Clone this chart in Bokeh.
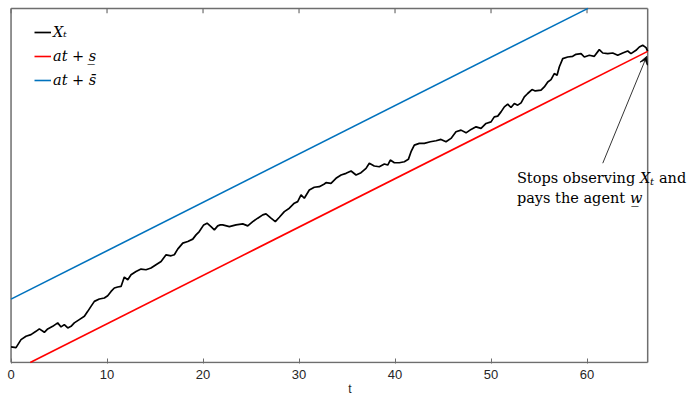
from bokeh.plotting import figure
from bokeh.models import Range1d, FixedTicker, Legend, LegendItem, Label, Arrow, VeeHead
from bokeh.embed import file_html
from bokeh.resources import INLINE

# ---- data ----
t = [0.00, 0.52, 1.04, 1.56, 2.08, 2.60, 2.95, 3.47, 3.82, 4.34, 4.86, 5.21, 5.55, 5.91, 6.25, 6.59, 7.11, 7.64, 7.99, 8.33,
     8.68, 9.20, 9.72, 10.07, 10.42, 10.76,
     11.11, 11.46, 11.80, 12.16, 12.50, 13.02, 13.54, 14.06, 14.58, 15.10, 15.63, 16.15, 16.67, 17.01, 17.36, 17.89, 18.41,
     18.93, 19.27, 19.61, 20.07, 20.42, 20.83, 21.18, 21.53, 21.80,
     22.05, 22.74, 23.44, 24.14, 24.66, 25.18, 25.70, 26.22, 26.56, 27.08, 27.53, 27.95, 28.47, 28.99, 29.51, 29.86, 30.21,
     30.55, 31.07, 31.59, 32.11, 32.64,
     32.81, 33.33, 33.85, 34.38, 34.90, 35.42, 35.94, 36.46, 36.98, 37.32, 37.84, 38.36, 38.89, 39.24, 39.51, 39.93, 40.45,
     40.97, 41.39, 41.67, 42.01, 42.53, 43.05, 43.68,
     44.27, 44.79, 45.31, 45.83, 46.35, 46.88, 47.40, 47.92, 48.44, 48.96, 49.48, 50.00, 50.34, 50.70, 51.04, 51.39, 51.74,
     52.08, 52.43, 52.78, 53.13, 53.47, 53.82, 54.27, 54.61,
     55.21, 55.55, 55.91, 56.25, 56.59, 56.88, 57.11, 57.47, 57.99, 58.51, 58.85, 59.38, 59.72, 60.24, 60.76, 61.28, 61.64,
     62.16, 62.68, 63.20, 63.72, 64.24, 64.58, 65.10, 65.45, 65.80, 66.15, 66.32]
X = [3.24, 3.09, 4.74, 5.42, 5.77, 6.45, 6.95, 6.25, 6.95, 7.48, 8.19, 7.36, 7.84, 7.15, 7.48, 8.19, 8.87, 9.55, 10.58, 11.61,
     12.64, 13.13, 13.34, 13.81, 14.70, 15.40,
     15.61, 15.73, 17.67, 17.11, 18.14, 18.82, 19.32, 19.18, 19.53, 20.21, 20.89, 22.27, 22.06, 22.27, 23.44, 24.68, 25.01,
     25.51, 26.39, 27.07, 28.45, 28.80, 28.10, 27.42, 28.25, 28.45,
     28.45, 28.10, 28.45, 28.66, 28.25, 29.13, 29.84, 30.52, 30.72, 29.84, 29.13, 30.04, 31.20, 31.90, 32.93, 33.26, 34.64,
     33.96, 35.67, 36.23, 36.35, 36.91,
     37.18, 37.05, 38.08, 38.76, 39.11, 39.59, 38.76, 39.24, 40.14, 41.18, 40.62, 40.47, 41.03, 40.82, 41.86, 41.30, 41.30,
     41.51, 42.00, 43.57, 44.95, 45.30, 45.30, 45.63,
     45.84, 46.12, 45.63, 46.33, 47.69, 48.04, 47.48, 48.19, 48.72, 48.39, 49.42, 49.75, 50.78, 50.93, 51.81, 52.85, 53.40,
     52.72, 53.55, 53.20, 53.67, 54.91, 55.61, 56.43, 56.14,
     56.29, 56.97, 58.00, 58.49, 59.73, 59.38, 61.09, 62.82, 63.15, 63.30, 63.71, 63.86, 63.15, 63.51, 63.30, 64.68, 63.98,
     63.86, 63.98, 63.51, 63.98, 64.39, 63.86, 64.54, 65.22, 65.57, 65.09, 64.32]

a = 1.0          # drift
s_low = -2.0     # lower intercept (underline s)
s_high = 13.1    # upper intercept (overline s)
t_end = 66.32
y_min, y_max = 0.0, 73.2
x_ticks = [0, 10, 20, 30, 40, 50, 60]

# straight lines, limited to the axes box
t_red = [(y_min - s_low) / a, t_end]
red_y = [a * v + s_low for v in t_red]
t_blue = [0.0, (y_max - s_high) / a]
blue_y = [a * v + s_high for v in t_blue]

# annotation anchor (data coords)
ann_x, ann_y1, ann_y2 = 52.7, 38.1, 34.0
arrow_start = (61.64, 41.2)
arrow_end = (66.22, 63.3)

AX = "#6e6e6e"
TXT = "#262626"
SERIF = "DejaVu Serif"
TICK_LEN = 1.0   # top tick length in y units (~5px)

p = figure(width=691, height=398, output_backend="svg", toolbar_location=None,
           x_range=Range1d(-0.16, 70.78), y_range=Range1d(y_min - 0.2, y_max + 0.6),
           min_border_left=9, min_border_right=1, min_border_top=5, min_border_bottom=35)
p.xgrid.visible = False
p.ygrid.visible = False
p.yaxis.visible = False
p.outline_line_color = None
p.background_fill_color = "white"
p.border_fill_color = "white"

xa = p.xaxis[0]
xa.ticker = FixedTicker(ticks=x_ticks)
xa.axis_line_color = None
xa.major_tick_line_color = AX
xa.major_tick_in = 5
xa.major_tick_out = 0
xa.minor_tick_line_color = None
xa.major_label_text_font = "Liberation Sans"
xa.major_label_text_font_size = "13px"
xa.major_label_text_color = TXT
xa.major_label_standoff = 6
xa.axis_label = "t"
xa.axis_label_text_font = "Liberation Sans"
xa.axis_label_text_font_style = "normal"
xa.axis_label_text_font_size = "12px"
xa.axis_label_text_color = TXT
xa.axis_label_standoff = 0

# axes box (left, right, bottom, top edges) and inward top ticks
p.segment(x0=[0, t_end, 0, 0], x1=[0, t_end, t_end, t_end],
          y0=[y_min, y_min, y_min, y_max], y1=[y_max, y_max, y_min, y_max],
          line_color=AX, line_width=1.5)
p.segment(x0=x_ticks, x1=x_ticks, y0=[y_max] * len(x_ticks), y1=[y_max - TICK_LEN] * len(x_ticks),
          line_color=AX, line_width=1.2)

r_x = p.line(t, X, line_color="black", line_width=1.7)
r_red = p.line(t_red, red_y, line_color="#FF0000", line_width=1.6)
r_blue = p.line(t_blue, blue_y, line_color="#0072BD", line_width=1.6)

legend = Legend(items=[LegendItem(label="X\u209c", renderers=[r_x]),
                       LegendItem(label="at + s\u0332", renderers=[r_red]),
                       LegendItem(label="at + s\u0304", renderers=[r_blue])],
                location=(21, 269), padding=4, spacing=4, margin=0,
                glyph_width=17, glyph_height=20, label_height=20, label_standoff=2,
                label_text_font=SERIF, label_text_font_style="italic", label_text_font_size="14.5px",
                label_text_color="black",
                border_line_alpha=0, background_fill_alpha=0)
p.add_layout(legend)

fs = "14.5px"
p.add_layout(Label(x=ann_x, y=ann_y1, text="Stops observing", text_font=SERIF, text_font_size=fs,
                   text_color="black", text_baseline="alphabetic"))
p.add_layout(Label(x=ann_x, y=ann_y1, x_offset=123, text="X", text_font=SERIF, text_font_style="italic",
                   text_font_size=fs, text_color="black", text_baseline="alphabetic"))
p.add_layout(Label(x=ann_x, y=ann_y1, x_offset=133, y_offset=-3, text="t", text_font=SERIF,
                   text_font_style="italic", text_font_size="10px", text_color="black",
                   text_baseline="alphabetic"))
p.add_layout(Label(x=ann_x, y=ann_y1, x_offset=142, text="and", text_font=SERIF, text_font_size=fs,
                   text_color="black", text_baseline="alphabetic"))
p.add_layout(Label(x=ann_x, y=ann_y2, text="pays the agent", text_font=SERIF, text_font_size=fs,
                   text_color="black", text_baseline="alphabetic"))
p.add_layout(Label(x=ann_x, y=ann_y2, x_offset=113, text="w\u0332", text_font=SERIF, text_font_style="italic",
                   text_font_size=fs, text_color="black", text_baseline="alphabetic"))

p.add_layout(Arrow(end=VeeHead(size=8, fill_color="black", line_color="black", line_width=0.8),
                   x_start=arrow_start[0], y_start=arrow_start[1], x_end=arrow_end[0], y_end=arrow_end[1],
                   line_color="black", line_width=0.8))

open("out.html", "w").write(file_html(p, INLINE))
